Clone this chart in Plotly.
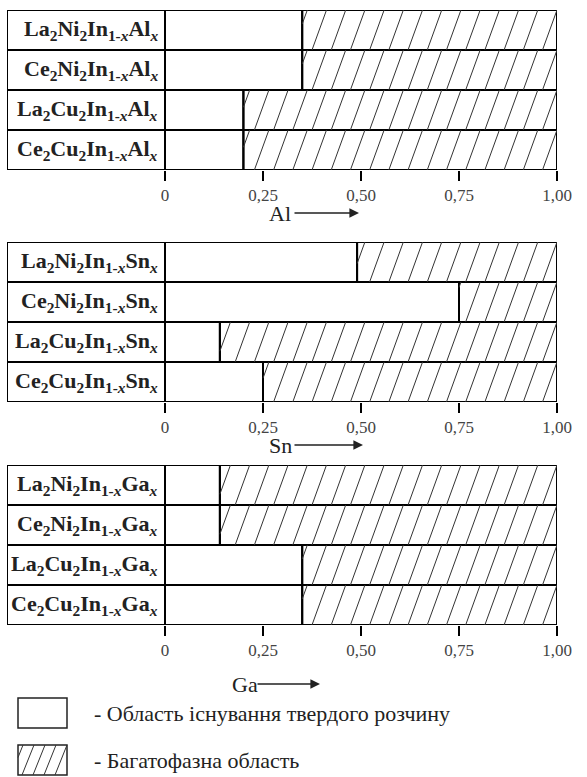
import plotly.graph_objects as go

# Substitution systems and compounds (rows listed top to bottom)
systems = ["Al", "Sn", "Ga"]
hosts = ["La<sub>2</sub>Ni<sub>2</sub>", "Ce<sub>2</sub>Ni<sub>2</sub>",
         "La<sub>2</sub>Cu<sub>2</sub>", "Ce<sub>2</sub>Cu<sub>2</sub>"]

# Upper limit x of the solid-solution range for each compound
limit_al = [0.35, 0.35, 0.20, 0.20]
limit_sn = [0.49, 0.75, 0.14, 0.25]
limit_ga = [0.14, 0.14, 0.35, 0.35]
limits = [limit_al, limit_sn, limit_ga]

tick_vals = [0, 0.25, 0.50, 0.75, 1.00]
tick_text = ["0", "0,25", "0,50", "0,75", "1,00"]

legend_labels = ["- Область існування твердого розчину", "- Багатофазна область"]

W, H = 587, 777
PX_W = 572               # horizontal layout grid (pixels) mapped onto the paper width
BOX_LEFT, X_ZERO, X_ONE = 7, 165, 557
LABEL_W = (X_ZERO - BOX_LEFT) / (X_ONE - X_ZERO)   # name column width in x units
X_DOM = [BOX_LEFT / PX_W, X_ONE / PX_W]
PANEL_PX = [(10, 170), (242, 402), (465, 625)]
TITLE_PX = [(267, 213, 92), (267, 445, 96), (230, 684, 90)]
SERIF = "Liberation Serif"

HATCH_STEP = 0.049
HATCH_SLANT = 0.037


def px(xp):
    return xp / PX_W


def py(yp):
    return 1 - yp / H


def hatch_segments(rows_y, lows):
    xs, ys = [], []
    for yc, lo in zip(rows_y, lows):
        y0 = yc - 0.5
        b = 1.0 - HATCH_SLANT
        while b + HATCH_SLANT > lo:
            t0 = max(0.0, (lo - b) / HATCH_SLANT)
            t1 = min(1.0, (1.0 - b) / HATCH_SLANT)
            if t1 > t0:
                xs += [b + HATCH_SLANT * t0, b + HATCH_SLANT * t1, None]
                ys += [y0 + t0, y0 + t1, None]
            b -= HATCH_STEP
    return xs, ys


fig = go.Figure()
layout = dict(width=W, height=H, autosize=False, margin=dict(l=0, r=0, t=0, b=0),
              paper_bgcolor="white", plot_bgcolor="white", showlegend=False,
              barmode="overlay", annotations=[], shapes=[])

outline = dict(color="black", width=2)
for p, (elem, lims) in enumerate(zip(systems, limits)):
    sfx = "" if p == 0 else str(p + 1)
    xa, ya = "x" + sfx, "y" + sfx
    ypos = [3, 2, 1, 0]

    hx, hy = hatch_segments(ypos, lims)
    fig.add_trace(go.Bar(orientation="h", y=ypos, x=[LABEL_W] * 4, base=[-LABEL_W] * 4,
                         width=1, marker=dict(color="white", line=outline),
                         xaxis=xa, yaxis=ya, hoverinfo="skip", cliponaxis=False))
    fig.add_trace(go.Bar(orientation="h", y=ypos, x=lims, base=[0] * 4,
                         width=1, marker=dict(color="white", line=outline),
                         xaxis=xa, yaxis=ya, hoverinfo="skip", cliponaxis=False))
    fig.add_trace(go.Bar(orientation="h", y=ypos, x=[1 - v for v in lims], base=lims,
                         width=1, marker=dict(color="rgba(0,0,0,0)", line=outline),
                         xaxis=xa, yaxis=ya, hoverinfo="skip", cliponaxis=False))
    fig.add_trace(go.Scatter(x=hx, y=hy, mode="lines", line=dict(color="#333", width=1),
                             xaxis=xa, yaxis=ya, hoverinfo="skip"))

    top, bot = PANEL_PX[p]
    layout["xaxis" + sfx] = dict(domain=X_DOM, range=[-LABEL_W, 1.0], anchor=ya,
                                 tickmode="array", tickvals=tick_vals, ticktext=tick_text,
                                 ticks="outside", ticklen=10, tickwidth=2, tickcolor="black",
                                 showgrid=False, zeroline=False, showline=False,
                                 tickfont=dict(family=SERIF, size=17, color="#444"))
    layout["yaxis" + sfx] = dict(domain=[py(bot), py(top)], range=[-0.5, 3.5],
                                 anchor=xa, showticklabels=False, showgrid=False,
                                 zeroline=False, showline=False, ticks="")

    for yc, host in zip(ypos, hosts):
        name = f"<b>{host}In<sub>1-<i>x</i></sub>{elem}<sub><i>x</i></sub></b>"
        layout["annotations"].append(dict(
            x=-0.012, y=yc, xref=xa, yref=ya, text=name, showarrow=False,
            xanchor="right", yanchor="middle",
            font=dict(family=SERIF, size=22, color="#222")))

    tx, ty, alen = TITLE_PX[p]
    layout["annotations"].append(dict(
        x=px(tx), y=py(ty), xref="paper", yref="paper", text=elem, showarrow=False,
        xanchor="left", yanchor="middle", font=dict(family=SERIF, size=22, color="#222")))
    layout["annotations"].append(dict(
        x=px(tx + alen), y=py(ty), xref="paper", yref="paper", text="",
        showarrow=True, ax=-(alen - 26), ay=0, arrowhead=2, arrowsize=1.2, arrowwidth=1.6,
        arrowcolor="#222"))

# Legend glyphs and captions
leg_boxes = [(18, 698, 67, 728), (18, 745, 67, 775)]
for i, ((x0, y0, x1, y1), text) in enumerate(zip(leg_boxes, legend_labels)):
    layout["shapes"].append(dict(type="rect", xref="paper", yref="paper",
                                 x0=px(x0), x1=px(x1), y0=py(y1), y1=py(y0),
                                 line=dict(color="#222", width=1.5), fillcolor="white"))
    if i == 1:
        step, slant = 11, 12
        b = x1 - slant
        while b + slant > x0:
            t0 = max(0.0, (x0 - b) / slant)
            t1 = min(1.0, (x1 - b) / slant)
            if t1 > t0:
                layout["shapes"].append(dict(
                    type="line", xref="paper", yref="paper",
                    x0=px(b + slant * t0), x1=px(b + slant * t1),
                    y0=py(y1 - (y1 - y0) * t0), y1=py(y1 - (y1 - y0) * t1),
                    line=dict(color="#333", width=1)))
            b -= step
    layout["annotations"].append(dict(
        x=px(92), y=py((y0 + y1) / 2), xref="paper", yref="paper", text=text,
        showarrow=False, xanchor="left", yanchor="middle",
        font=dict(family=SERIF, size=22, color="#222")))

fig.update_layout(**layout)
fig.write_html("out.html", config={"responsive": False, "displayModeBar": False})
